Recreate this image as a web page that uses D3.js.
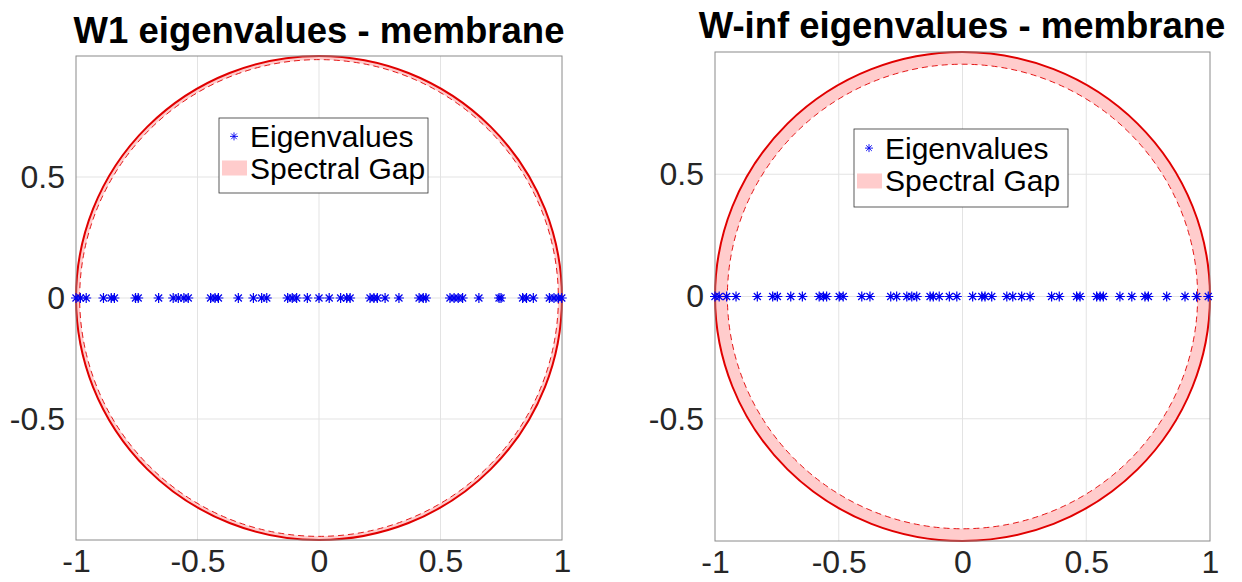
<!DOCTYPE html>
<html>
<head>
<meta charset="utf-8">
<script src="https://cdn.jsdelivr.net/npm/d3@7"></script>
<style>
  body { margin: 0; background: #fff; }
  svg { display: block; font-family: "Liberation Sans", Arial, Helvetica, sans-serif; }
</style>
</head>
<body>
<svg id="chart" width="1242" height="582"></svg>
<script>
const eigW1 = [-1.0, -0.982, -0.958, -0.887, -0.855, -0.842, -0.755, -0.744, -0.66,
    -0.6, -0.579, -0.556, -0.538, -0.446, -0.428, -0.414, -0.332, -0.27, -0.236, -0.215,
    -0.129, -0.11, -0.092, -0.048, 0.0, 0.042, 0.089, 0.114, 0.128, 0.21, 0.226, 0.24,
    0.272, 0.329, 0.412, 0.429, 0.44, 0.539, 0.556, 0.573, 0.591, 0.658, 0.741, 0.749,
    0.838, 0.854, 0.882, 0.948, 0.967, 0.985, 0.999];
const eigWinf = [-1.0, -0.983, -0.953, -0.915, -0.829, -0.767, -0.748, -0.694, -0.647,
    -0.579, -0.562, -0.549, -0.498, -0.482, -0.407, -0.374, -0.29, -0.266, -0.225, -0.205,
    -0.185, -0.131, -0.118, -0.094, -0.053, -0.023, 0.041, 0.078, 0.091, 0.118, 0.179,
    0.203, 0.239, 0.273, 0.36, 0.391, 0.461, 0.475, 0.542, 0.556, 0.569, 0.636, 0.684,
    0.737, 0.751, 0.825, 0.899, 0.946, 0.993];
// radius of the second largest eigenvalue (dashed circle)
const gapW1 = 0.985;
const gapWinf = 0.95;

const titles = ["W1 eigenvalues - membrane", "W-inf eigenvalues - membrane"];
const xTicks = [-1, -0.5, 0, 0.5, 1];
const yTicks = [-0.5, 0, 0.5];
const gridTicks = [-0.5, 0, 0.5];
const legendLabels = ["Eigenvalues", "Spectral Gap"];

const svg = d3.select("#chart");
const red = "#e00000";
const blue = "#0000f0";
const fmt = d => String(d); // plain hyphen minus like MATLAB

function asterisk(s) {
    const d = s * 0.7071;
    return `M${-s},0L${s},0M0,${-s}L0,${s}M${-d},${-d}L${d},${d}M${-d},${d}L${d},${-d}`;
}

function drawPanel(cfg) {
    const x = d3.scaleLinear().domain([-1, 1]).range([cfg.left, cfg.right]);
    const y = d3.scaleLinear().domain([-1, 1]).range([cfg.bottom, cfg.top]);
    const g = svg.append("g");

    // grid
    g.selectAll(".gx").data(gridTicks).join("line")
        .attr("x1", d => x(d)).attr("x2", d => x(d))
        .attr("y1", cfg.top).attr("y2", cfg.bottom)
        .attr("stroke", "#e3e3e3").attr("stroke-width", 1);
    g.selectAll(".gy").data(gridTicks).join("line")
        .attr("y1", d => y(d)).attr("y2", d => y(d))
        .attr("x1", cfg.left).attr("x2", cfg.right)
        .attr("stroke", "#e3e3e3").attr("stroke-width", 1);

    const cx = x(0), cy = y(0);
    const rx = x(1) - x(0), ry = y(-1) - y(0);
    const ix = rx * cfg.gap, iy = ry * cfg.gap;

    // spectral gap annulus
    const ann = `M${cx + rx},${cy}A${rx},${ry} 0 1 0 ${cx - rx},${cy}A${rx},${ry} 0 1 0 ${cx + rx},${cy}Z` +
        `M${cx + ix},${cy}A${ix},${iy} 0 1 1 ${cx - ix},${cy}A${ix},${iy} 0 1 1 ${cx + ix},${cy}Z`;
    g.append("path").attr("d", ann).attr("fill", "#ffcccc").attr("fill-rule", "evenodd");

    g.append("ellipse").attr("cx", cx).attr("cy", cy)
        .attr("rx", ix).attr("ry", iy)
        .attr("fill", "none").attr("stroke", red).attr("stroke-width", 0.9)
        .attr("stroke-dasharray", "6,4");
    g.append("ellipse").attr("cx", cx).attr("cy", cy)
        .attr("rx", rx).attr("ry", ry)
        .attr("fill", "none").attr("stroke", red).attr("stroke-width", 2);

    // box
    g.append("rect")
        .attr("x", cfg.left).attr("y", cfg.top)
        .attr("width", cfg.right - cfg.left).attr("height", cfg.bottom - cfg.top)
        .attr("fill", "none").attr("stroke", "#8a8a8a").attr("stroke-width", 1);

    // eigenvalues
    g.selectAll(".eig").data(cfg.eig).join("path")
        .attr("d", asterisk(5))
        .attr("transform", d => `translate(${x(d)},${y(0)})`)
        .attr("stroke", blue).attr("stroke-width", 1.2).attr("fill", "none");

    // axes
    const xAxis = d3.axisBottom(x).tickValues(xTicks).tickSize(0).tickPadding(9)
        .tickFormat(fmt);
    g.append("g")
        .attr("transform", `translate(0,${cfg.bottom})`)
        .call(xAxis)
        .call(a => a.select(".domain").remove())
        .call(a => a.selectAll("text").attr("font-size", 32).attr("fill", "#262626")
            .attr("font-family", "Liberation Sans, Arial, sans-serif"));
    const yAxis = d3.axisLeft(y).tickValues(yTicks).tickSize(0).tickPadding(11)
        .tickFormat(fmt);
    g.append("g")
        .attr("transform", `translate(${cfg.left},0)`)
        .call(yAxis)
        .call(a => a.select(".domain").remove())
        .call(a => a.selectAll("text").attr("font-size", 32).attr("fill", "#262626")
            .attr("font-family", "Liberation Sans, Arial, sans-serif"));

    // title
    g.append("text")
        .attr("x", cfg.titleX).attr("y", cfg.titleY)
        .attr("text-anchor", "middle")
        .attr("font-size", 36.5).attr("font-weight", "bold").attr("fill", "#000")
        .text(cfg.title);

    // legend
    const lg = g.append("g").attr("transform", `translate(${cfg.legX},${cfg.legY})`);
    lg.append("rect").attr("width", cfg.legW).attr("height", cfg.legH)
        .attr("fill", "#fff").attr("stroke", "#333").attr("stroke-width", 0.8);
    lg.append("path").attr("d", asterisk(4))
        .attr("transform", `translate(15,${cfg.legH * 0.245})`)
        .attr("stroke", blue).attr("stroke-width", 0.9).attr("fill", "none");
    lg.append("rect").attr("x", 3).attr("y", cfg.legH * 0.66 - 7)
        .attr("width", 25).attr("height", 15).attr("fill", "#ffcccc");
    lg.selectAll(".lt").data(legendLabels).join("text")
        .attr("x", 31)
        .attr("y", (d, i) => cfg.legH * (0.245 + i * 0.415) + 11)
        .attr("font-size", 30).attr("fill", "#000")
        .text(d => d);
}

drawPanel({
    left: 76, right: 562, top: 56, bottom: 540, gap: gapW1, eig: eigW1,
    title: titles[0], titleX: 319, titleY: 43,
    legX: 219, legY: 118, legW: 209, legH: 75
});
drawPanel({
    left: 715, right: 1210, top: 52, bottom: 541, gap: gapWinf, eig: eigWinf,
    title: titles[1], titleX: 962, titleY: 38,
    legX: 854, legY: 129, legW: 214, legH: 78
});
</script>
</body>
</html>
